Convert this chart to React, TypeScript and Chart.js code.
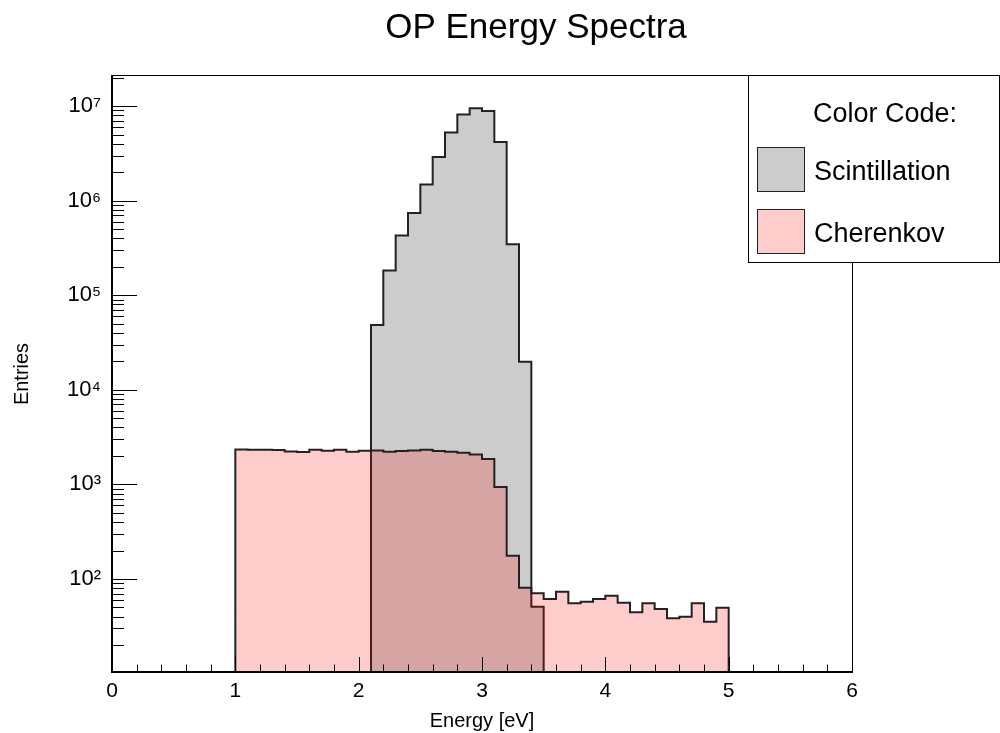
import React, { useEffect, useRef } from 'react';
import { Chart, registerables } from 'chart.js';

Chart.register(...registerables);

// ---- data ----
const binWidth = 0.1;
const scintStart = 2.1;
const scintValues = [48500, 182400, 427600, 741000, 1479000, 2890000, 5270000, 8170000, 9460000, 8850000, 4170000, 345900, 19760, 51];
const cherStart = 1.0;
const cherValues = [
  2345, 2323, 2323, 2306, 2234, 2198, 2323, 2266, 2323, 2213,
  2266, 2287, 2213, 2250, 2287, 2323, 2250, 2213, 2159, 2076,
  1853, 937, 176, 81, 70.6, 61.5, 73.4, 55.4, 57.6, 61.5,
  66.7, 56.2, 44.5, 55.4, 48.2, 38.4, 40.0, 55.4, 35.4, 49.7,
];
const seriesNames = ['Scintillation', 'Cherenkov'];
const xTickValues = [0, 1, 2, 3, 4, 5, 6];
const xTickLabels = ['0', '1', '2', '3', '4', '5', '6'];
const yTickValues = [1e2, 1e3, 1e4, 1e5, 1e6, 1e7];
const yTickLabels = ['10²', '10³', '10⁴', '10⁵', '10⁶', '10⁷'];
const xMin = 0;
const xMax = 6;
const yMin = 10.4;
const yMax = 2.08e7;

const FONT = '"Liberation Sans", Arial, Helvetica, sans-serif';
const SCINT_FILL = 'rgba(0,0,0,0.2)';
const CHER_FILL = 'rgba(255,0,0,0.2)';

function edge(start: number, i: number) {
  return Math.round((start + i * binWidth) * 1000) / 1000;
}

function histPoints(start: number, values: number[]) {
  const pts: { x: number; y: number }[] = [{ x: start, y: yMin }];
  values.forEach((v, i) => pts.push({ x: edge(start, i), y: v }));
  const end = edge(start, values.length);
  pts.push({ x: end, y: values[values.length - 1] });
  pts.push({ x: end, y: yMin });
  return pts;
}

const decorPlugin = {
  id: 'decor',
  afterDraw(chart: any) {
    const { ctx, chartArea: a } = chart;
    const xs = chart.scales.x;
    const ys = chart.scales.y;
    ctx.save();
    ctx.strokeStyle = '#000';
    ctx.lineWidth = 1;

    // x ticks (inside, from bottom)
    ctx.beginPath();
    for (let k = 0; k <= 30; k++) {
      const v = k * 0.2;
      const px = Math.round(xs.getPixelForValue(v)) + 0.5;
      const isMajor = k % 5 === 0;
      const len = isMajor ? 15 : 7.5;
      ctx.moveTo(px, a.bottom);
      ctx.lineTo(px, a.bottom - len);
    }
    ctx.stroke();

    // y ticks (inside, from left)
    ctx.beginPath();
    for (let n = 1; n <= 7; n++) {
      for (let k = 1; k <= 9; k++) {
        const v = k * Math.pow(10, n);
        if (v < yMin || v > yMax) continue;
        const py = Math.round(ys.getPixelForValue(v)) + 0.5;
        const len = k === 1 ? 25 : 12;
        ctx.moveTo(a.left, py);
        ctx.lineTo(a.left + len, py);
      }
    }
    ctx.stroke();

    // frame
    ctx.lineWidth = 1;
    ctx.strokeRect(a.left + 0.5, a.top - 0.5, a.right - a.left, a.bottom - a.top + 1);
    ctx.lineWidth = 2;
    ctx.beginPath();
    ctx.moveTo(a.left, a.top - 1);
    ctx.lineTo(a.left, a.bottom + 1);
    ctx.moveTo(a.left - 1, a.bottom);
    ctx.lineTo(a.right + 1, a.bottom);
    ctx.stroke();

    // title
    ctx.fillStyle = '#000';
    ctx.font = `35px ${FONT}`;
    ctx.textAlign = 'center';
    ctx.textBaseline = 'alphabetic';
    ctx.fillText('OP Energy Spectra', 536, 38);

    // legend
    const lx = 748, ly = 75, lw = 251, lh = 187;
    ctx.fillStyle = '#fff';
    ctx.fillRect(lx, ly, lw, lh);
    ctx.lineWidth = 1;
    ctx.strokeStyle = '#000';
    ctx.strokeRect(lx + 0.5, ly + 0.5, lw, lh);
    ctx.fillStyle = '#000';
    ctx.font = `27px ${FONT}`;
    ctx.textAlign = 'center';
    ctx.fillText('Color Code:', 885, 122);
    const entries = [
      { name: seriesNames[0], fill: SCINT_FILL, top: 147, base: 180 },
      { name: seriesNames[1], fill: CHER_FILL, top: 209, base: 242 },
    ];
    entries.forEach((e) => {
      ctx.fillStyle = e.fill;
      ctx.fillRect(757, e.top, 47, 44);
      ctx.strokeStyle = '#222';
      ctx.lineWidth = 1;
      ctx.strokeRect(757.5, e.top + 0.5, 47, 44);
      ctx.fillStyle = '#000';
      ctx.textAlign = 'left';
      ctx.fillText(e.name, 814, e.base);
    });
    ctx.restore();
  },
};

export default function App() {
  const ref = useRef<HTMLCanvasElement | null>(null);
  useEffect(() => {
    if (!ref.current) return;
    const chart = new Chart(ref.current, {
      type: 'line',
      data: {
        datasets: [
          {
            label: seriesNames[0],
            data: histPoints(scintStart, scintValues),
            stepped: true,
            fill: 'start',
            backgroundColor: SCINT_FILL,
            borderColor: '#222',
            borderWidth: 2,
            pointRadius: 0,
            order: 2,
          },
          {
            label: seriesNames[1],
            data: histPoints(cherStart, cherValues),
            stepped: true,
            fill: 'start',
            backgroundColor: CHER_FILL,
            borderColor: '#222',
            borderWidth: 2,
            pointRadius: 0,
            order: 1,
          },
        ],
      },
      options: {
        responsive: false,
        animation: false,
        layout: { padding: { left: 0, right: 148, top: 76, bottom: 0 } },
        plugins: {
          legend: { display: false },
          title: { display: false },
          tooltip: { enabled: false },
        },
        scales: {
          x: {
            type: 'linear',
            min: xMin,
            max: xMax,
            afterBuildTicks: (s: any) => {
              s.ticks = xTickValues.map((v) => ({ value: v }));
            },
            afterFit: (s: any) => {
              s.height = 61;
            },
            grid: { display: false, drawTicks: false },
            border: { display: false },
            ticks: {
              autoSkip: false,
              maxRotation: 0,
              padding: 7,
              color: '#000',
              font: { family: FONT, size: 21 },
              callback: (_v: any, i: number) => xTickLabels[i],
            },
            title: {
              display: true,
              text: 'Energy [eV]',
              color: '#000',
              font: { family: FONT, size: 20 },
              padding: { top: 0, bottom: 0 },
            },
          },
          y: {
            type: 'logarithmic',
            min: yMin,
            max: yMax,
            afterBuildTicks: (s: any) => {
              s.ticks = yTickValues.map((v) => ({ value: v }));
            },
            afterFit: (s: any) => {
              s.width = 112;
            },
            grid: { display: false, drawTicks: false },
            border: { display: false },
            ticks: {
              autoSkip: false,
              padding: 11,
              color: '#000',
              font: { family: FONT, size: 22 },
              callback: (_v: any, i: number) => yTickLabels[i],
            },
            title: {
              display: true,
              text: 'Entries',
              color: '#000',
              font: { family: FONT, size: 20 },
              padding: { top: 10, bottom: 0 },
            },
          },
        },
      },
      plugins: [decorPlugin],
    } as any);
    return () => chart.destroy();
  }, []);
  return (
    <div style={{ position: 'fixed', left: 0, top: 0, width: 1000, height: 733, background: '#fff' }}>
      <canvas ref={ref} width={1000} height={733} />
    </div>
  );
}
